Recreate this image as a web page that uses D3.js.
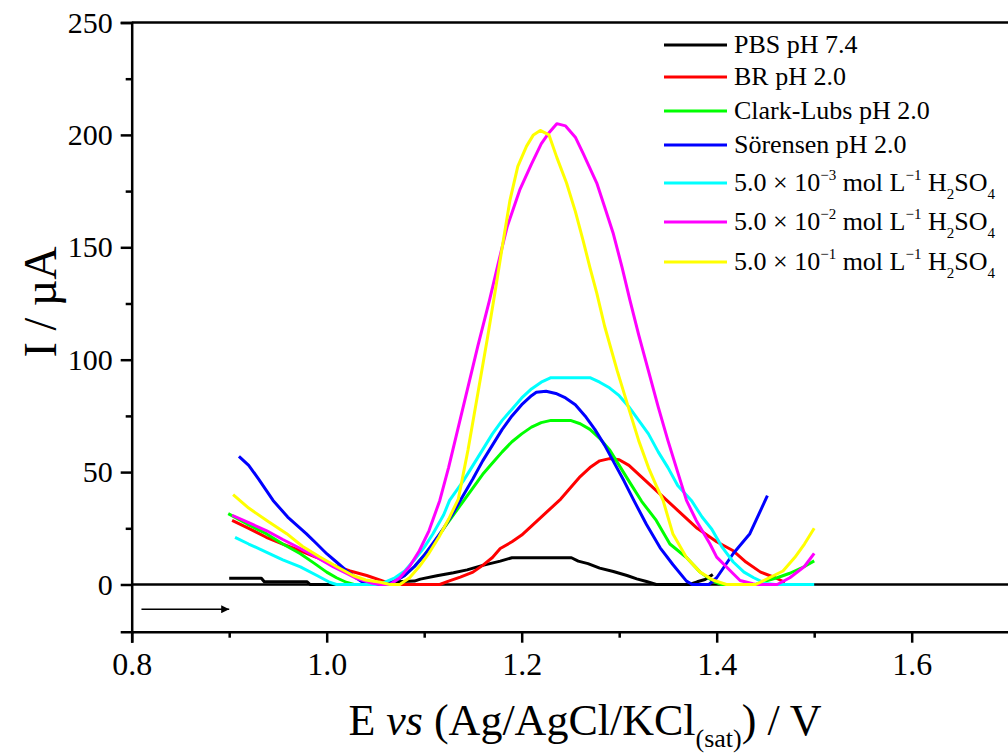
<!DOCTYPE html>
<html>
<head>
<meta charset="utf-8">
<script src="https://cdn.jsdelivr.net/npm/d3@7"></script>
<style>
  body { margin: 0; background: #fff; }
  svg { display: block; font-family: "Liberation Serif", "Times New Roman", serif; }
  svg text { font-family: "Liberation Serif", "Times New Roman", serif; }
</style>
</head>
<body>
<div id="chart"></div>
<script>
// DPV curves, E (V) vs I (uA)
const pbs = [[0.900,2.8],[0.933,2.8],[0.936,1.2],[0.980,1.2],[0.983,0],[1.068,0],[1.072,1.2],[1.090,1.5],[1.096,2.4],[1.113,3.9],[1.130,5.2],[1.144,6.5],[1.160,8.5],[1.178,10.4],[1.190,11.9],[1.251,11.9],[1.258,10.4],[1.268,9.3],[1.280,7.3],[1.294,5.8],[1.308,4.0],[1.318,2.5],[1.328,1.3],[1.338,0],[1.372,0],[1.380,1.2],[1.388,2.2],[1.396,4.5]];
const br = [[0.903,28.5],[0.920,25],[0.938,21],[0.955,18],[0.973,15],[0.990,12],[1.007,8.5],[1.024,6],[1.041,4],[1.058,1.5],[1.068,0],[1.116,0],[1.125,1.5],[1.137,3.3],[1.150,5.5],[1.160,8.5],[1.170,12],[1.178,16],[1.190,19],[1.200,22],[1.210,26],[1.220,30],[1.230,34],[1.240,38],[1.250,43],[1.260,48],[1.270,52],[1.280,55],[1.290,56],[1.300,55.5],[1.310,53],[1.320,49],[1.330,45],[1.340,41],[1.350,37],[1.360,33],[1.370,29],[1.380,25],[1.390,22],[1.400,19],[1.417,15],[1.430,10],[1.445,5.5],[1.460,3],[1.470,1]];
const clarkLubs = [[0.899,31.5],[0.918,27],[0.938,22.6],[0.955,18],[0.973,13.7],[0.987,9.5],[1.000,5.5],[1.010,3],[1.020,1],[1.028,0],[1.060,0],[1.065,0.5],[1.080,4],[1.090,8],[1.100,13],[1.110,18.5],[1.120,25],[1.130,31],[1.140,37],[1.150,43],[1.160,49],[1.170,54],[1.180,59],[1.190,63.5],[1.200,67],[1.210,70],[1.220,72],[1.230,73],[1.250,73],[1.260,71.5],[1.270,69],[1.280,65],[1.290,60],[1.300,53],[1.310,46],[1.323,37],[1.338,28.5],[1.352,18],[1.369,12],[1.383,5.5],[1.396,1.5],[1.405,0],[1.440,0],[1.450,1.5],[1.462,3],[1.475,5],[1.490,8],[1.500,10.5]];
const sorensen = [[0.910,57],[0.920,53],[0.930,47],[0.945,37.4],[0.960,30],[0.979,22.6],[0.990,18],[1.000,13.7],[1.010,10],[1.020,6.3],[1.030,3],[1.038,0.7],[1.045,0],[1.060,0],[1.070,1.5],[1.080,4],[1.090,8],[1.100,13],[1.110,19],[1.120,25],[1.130,32],[1.137,37.4],[1.150,47],[1.160,55],[1.170,62],[1.180,69],[1.190,75],[1.200,80],[1.210,84],[1.215,85.5],[1.225,86],[1.235,85],[1.245,83],[1.255,80],[1.265,75],[1.275,69],[1.285,62],[1.295,54],[1.305,46],[1.315,37.4],[1.328,26.7],[1.342,16.3],[1.355,8.9],[1.369,1.5],[1.375,0],[1.392,0],[1.400,3],[1.417,13.8],[1.434,22.6],[1.452,39.5]];
const sulf3 = [[0.906,21],[0.920,18],[0.938,14.4],[0.955,11],[0.973,7.8],[0.990,4],[1.003,1],[1.010,0],[1.050,0],[1.058,0.7],[1.070,3],[1.080,6],[1.090,11],[1.100,16.5],[1.109,22.6],[1.120,31],[1.126,37.4],[1.140,46],[1.150,53],[1.160,60],[1.170,67],[1.180,73],[1.190,78],[1.200,83],[1.210,87],[1.220,90],[1.230,92],[1.270,92],[1.280,90],[1.290,87.5],[1.300,84],[1.310,79],[1.320,73],[1.330,67],[1.340,59],[1.350,52],[1.360,44],[1.374,37.4],[1.385,30],[1.395,24.6],[1.405,17],[1.417,10],[1.428,5.5],[1.438,3],[1.450,0.5],[1.460,0],[1.500,0]];
const sulf2 = [[0.903,30.8],[0.920,27.5],[0.938,24],[0.955,20],[0.973,16],[0.990,12],[1.007,7.8],[1.020,5],[1.031,2.6],[1.047,0.5],[1.055,0],[1.065,0],[1.075,3],[1.085,8],[1.095,15],[1.105,24],[1.116,37.4],[1.125,52],[1.135,70],[1.145,88],[1.155,106],[1.167,126.5],[1.176,143],[1.185,159],[1.198,175.5],[1.210,187],[1.220,196],[1.228,201],[1.236,205],[1.245,204],[1.255,199],[1.263,191.8],[1.277,178.6],[1.285,168],[1.294,156],[1.303,141],[1.311,126.5],[1.320,111],[1.330,95],[1.340,79],[1.350,64],[1.360,50],[1.369,37.4],[1.379,28.5],[1.393,18.1],[1.400,12.2],[1.417,4.8],[1.424,1.8],[1.437,0.3],[1.440,0],[1.462,0],[1.475,3],[1.490,8],[1.500,13.8]];
const sulf1 = [[0.904,40],[0.920,34],[0.940,28],[0.959,22.6],[0.975,17],[0.993,12.2],[1.010,8],[1.027,4],[1.040,2],[1.055,1],[1.065,0],[1.075,0],[1.085,3],[1.095,8],[1.105,14],[1.115,21],[1.125,29],[1.135,38],[1.145,60],[1.155,85],[1.165,110],[1.173,131],[1.180,150],[1.188,171],[1.196,186],[1.205,195],[1.212,200],[1.219,202],[1.228,200],[1.236,190],[1.246,178.6],[1.255,166],[1.263,153],[1.270,141],[1.277,129.6],[1.285,115],[1.298,95],[1.310,78],[1.320,64],[1.330,52],[1.338,44],[1.345,37.4],[1.355,22.6],[1.369,12],[1.383,5.5],[1.396,2],[1.410,0],[1.440,0],[1.447,1.5],[1.468,6],[1.480,12],[1.490,18],[1.500,25]];

const seriesData = [pbs, br, clarkLubs, sorensen, sulf3, sulf2, sulf1];
const seriesColors = ["#000000", "#ff0000", "#00ff00", "#0000ff", "#00ffff", "#ff00ff", "#ffff00"];
const legendLabels = ["PBS pH 7.4", "BR pH 2.0", "Clark-Lubs pH 2.0", "Sörensen pH 2.0", "−3", "−2", "−1"];

const xTicks = [0.8, 1.0, 1.2, 1.4, 1.6];
const xMinor = [0.9, 1.1, 1.3, 1.5, 1.7];
const yTicks = [0, 50, 100, 150, 200, 250];
const yMinor = [25, 75, 125, 175, 225];

const width = 1008, height = 755;
const serif = "'Liberation Serif', 'Times New Roman', serif";
const x = d3.scaleLinear().domain([0.8, 1.7]).range([131.7, 1009.2]);
const y = d3.scaleLinear().domain([-21, 250]).range([631.7, 22.5]);

const svg = d3.select("#chart").append("svg")
    .attr("width", width)
    .attr("height", height);

// zero reference line
svg.append("line")
    .attr("x1", x(0.8)).attr("x2", x(1.7))
    .attr("y1", y(0)).attr("y2", y(0))
    .attr("stroke", "#000").attr("stroke-width", 2.5);

// top frame
svg.append("line")
    .attr("x1", x(0.8)).attr("x2", x(1.7))
    .attr("y1", y(250)).attr("y2", y(250))
    .attr("stroke", "#000").attr("stroke-width", 2.5);

// axes
const xAxis = svg.append("g")
    .attr("transform", `translate(0,${y(-21)})`)
    .call(d3.axisBottom(x).tickValues(xTicks).tickFormat(d3.format(".1f")).tickSize(11).tickPadding(10));
svg.append("g")
    .attr("transform", `translate(0,${y(-21)})`)
    .call(d3.axisBottom(x).tickValues(xMinor).tickFormat("").tickSize(6))
    .call(g => g.select(".domain").remove());

const yAxis = svg.append("g")
    .attr("transform", `translate(${x(0.8)},0)`)
    .call(d3.axisLeft(y).tickValues(yTicks).tickSize(11).tickPadding(8));
svg.append("g")
    .attr("transform", `translate(${x(0.8)},0)`)
    .call(d3.axisLeft(y).tickValues(yMinor).tickFormat("").tickSize(6))
    .call(g => g.select(".domain").remove());

svg.selectAll(".domain").attr("stroke-width", 2.5);
svg.selectAll(".tick line").attr("stroke-width", 2.5);
xAxis.attr("font-family", null);
yAxis.attr("font-family", null);
xAxis.selectAll("text")
    .style("font-family", serif)
    .style("font-size", "32px")
    .attr("fill", "#000");
yAxis.selectAll("text")
    .style("font-family", serif)
    .style("font-size", "30px")
    .attr("fill", "#000");

// curves
const line = d3.line().x(d => x(d[0])).y(d => y(d[1]));
svg.append("g").selectAll("path")
    .data(seriesData)
    .join("path")
    .attr("d", line)
    .attr("fill", "none")
    .attr("stroke", (d, i) => seriesColors[i])
    .attr("stroke-width", 3)
    .attr("stroke-linejoin", "round");

// scan direction arrow
svg.append("defs").append("marker")
    .attr("id", "arrowhead")
    .attr("viewBox", "0 -5 10 10")
    .attr("refX", 10).attr("refY", 0)
    .attr("orient", "auto")
    .attr("markerUnits", "userSpaceOnUse")
    .attr("markerWidth", 14).attr("markerHeight", 8)
    .append("path")
    .attr("d", "M0,-5L10,0L0,5Z")
    .attr("fill", "#000");
svg.append("line")
    .attr("x1", x(0.81)).attr("x2", x(0.9))
    .attr("y1", y(-11)).attr("y2", y(-11))
    .attr("stroke", "#000").attr("stroke-width", 1.5)
    .attr("marker-end", "url(#arrowhead)");

// axis titles
svg.append("text")
    .attr("transform", "translate(56,302) rotate(-90)")
    .attr("text-anchor", "middle")
    .attr("font-size", 46)
    .text("I / µA");

const xt = svg.append("text")
    .attr("x", 585).attr("y", 735)
    .attr("text-anchor", "middle")
    .attr("font-size", 44);
xt.append("tspan").text("E ");
xt.append("tspan").attr("font-style", "italic").text("vs");
xt.append("tspan").text(" (Ag/AgCl/KCl");
xt.append("tspan").attr("font-size", 26).attr("dy", 12).text("(sat)");
xt.append("tspan").attr("dy", -12).text(") / V");

// legend
const legendY = [45, 77, 111, 145, 183, 222, 262];
const legend = svg.append("g");
seriesColors.forEach((c, i) => {
    legend.append("line")
        .attr("x1", 664).attr("x2", 727)
        .attr("y1", legendY[i]).attr("y2", legendY[i])
        .attr("stroke", c).attr("stroke-width", 3);
    const t = legend.append("text")
        .attr("x", 734).attr("y", legendY[i] + 8)
        .attr("font-size", 26);
    if (i < 4) {
        t.text(legendLabels[i]);
    } else {
        t.append("tspan").text("5.0 × 10");
        t.append("tspan").attr("font-size", 15).attr("dy", -11).text(legendLabels[i]);
        t.append("tspan").attr("dy", 11).text(" mol L");
        t.append("tspan").attr("font-size", 15).attr("dy", -11).text("−1");
        t.append("tspan").attr("dy", 11).text("  H");
        t.append("tspan").attr("font-size", 15).attr("dy", 8).text("2");
        t.append("tspan").attr("dy", -8).text("SO");
        t.append("tspan").attr("font-size", 15).attr("dy", 8).text("4");
    }
});
</script>
</body>
</html>
